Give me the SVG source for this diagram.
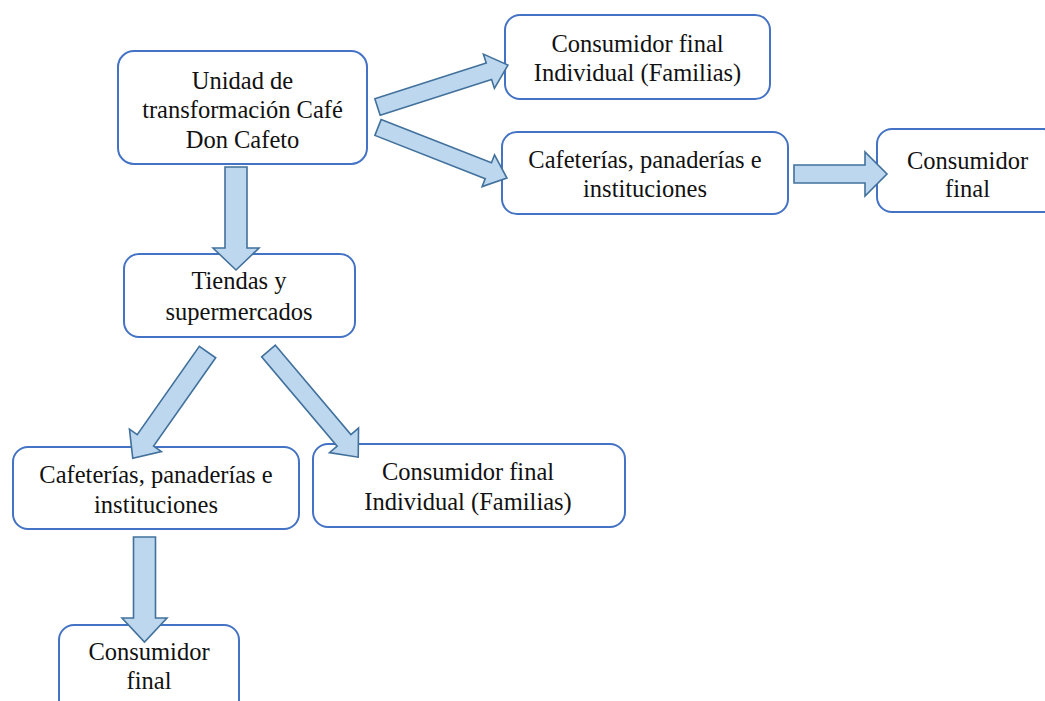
<svg xmlns="http://www.w3.org/2000/svg" width="1045" height="701" viewBox="0 0 1045 701">
<style>
.box{fill:#ffffff;stroke:#4472c4;stroke-width:2}
.t{font-family:'Liberation Serif','DejaVu Serif',serif;font-size:24.5px;fill:#111111;text-anchor:middle}
.arr{fill:#bdd7ee;stroke:#41719c;stroke-width:1.6;stroke-linejoin:miter}
</style>
<rect width="1045" height="701" fill="#ffffff"/>
<g id="n1"><rect class="box" x="118" y="51" width="249" height="113" rx="16"/>
<text class="t" x="242.5" y="88.5">Unidad de</text>
<text class="t" x="242.5" y="118">transformación Café</text>
<text class="t" x="242.5" y="147.5">Don Cafeto</text></g>
<g id="n2"><rect class="box" x="505" y="15" width="265" height="84" rx="15"/>
<text class="t" x="637.5" y="51.5">Consumidor final</text>
<text class="t" x="637.5" y="80.5">Individual (Familias)</text></g>
<g id="n3"><rect class="box" x="502" y="132" width="286" height="82" rx="15"/>
<text class="t" x="645" y="168">Cafeterías, panaderías e</text>
<text class="t" x="645" y="197">instituciones</text></g>
<g id="n4"><rect class="box" x="877" y="129" width="181" height="83" rx="15"/>
<text class="t" x="967.5" y="169">Consumidor</text>
<text class="t" x="967.5" y="197">final</text></g>
<g id="n5"><rect class="box" x="124" y="254" width="231" height="83" rx="15"/>
<text class="t" x="239" y="289">Tiendas y</text>
<text class="t" x="239" y="319.5">supermercados</text></g>
<g id="n6"><rect class="box" x="13" y="447" width="286" height="82" rx="15"/>
<text class="t" x="156" y="483">Cafeterías, panaderías e</text>
<text class="t" x="156" y="513">instituciones</text></g>
<g id="n7"><rect class="box" x="313" y="444" width="312" height="83" rx="15"/>
<text class="t" x="468" y="480">Consumidor final</text>
<text class="t" x="468" y="510">Individual (Familias)</text></g>
<g id="n8"><rect class="box" x="59" y="625" width="180" height="90" rx="15"/>
<text class="t" x="149" y="660">Consumidor</text>
<text class="t" x="149" y="689">final</text></g>
<g id="connectors">
<polygon class="arr" points="225,167 247,167 247,248 259,248 236,270 213,248 225,248"/>
<polygon class="arr" points="794,165 865,165 865,152 887,174 865,196 865,183 794,183"/>
<polygon class="arr" points="133.5,537 155.5,537 155.5,618 167,618 144.5,642 122,618 133.5,618"/>
<polygon class="arr" transform="translate(377.5,107) rotate(-17.8)" points="0,-8.75 117,-8.75 117,-18 137,0 117,18 117,8.75 0,8.75"/>
<polygon class="arr" transform="translate(378,127.5) rotate(21.4)" points="0,-8.5 118.5,-8.5 118.5,-17 138.5,0 118.5,17 118.5,8.5 0,8.5"/>
<polygon class="arr" transform="translate(207.5,352) rotate(125.1)" points="0,-10 108,-10 108,-19.5 130,0 108,19.5 108,10 0,10"/>
<polygon class="arr" transform="translate(268.5,351) rotate(49.8)" points="0,-9 117,-9 117,-19 139,0 117,19 117,9 0,9"/>
</g>
</svg>
